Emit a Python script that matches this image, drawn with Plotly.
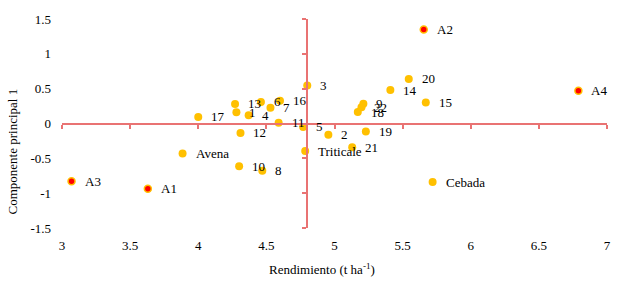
import plotly.graph_objects as go

# Genotypes / cereals
labels = ["1", "2", "3", "4", "5", "6", "7", "8", "9", "10", "11",
          "12", "13", "14", "15", "16", "17", "18", "19", "20", "21", "22",
          "Avena", "Triticale", "Cebada"]
rend = [4.28, 4.955, 4.80, 4.37, 4.77, 4.46, 4.53, 4.47, 5.212, 4.30, 4.59,
        4.31, 4.27, 5.41, 5.67, 4.60, 4.00, 5.171, 5.23, 5.545, 5.13, 5.198,
        3.885, 4.785, 5.72]
cp1 = [0.16, -0.16, 0.545, 0.12, -0.05, 0.31, 0.225, -0.68, 0.282, -0.615, 0.01,
       -0.135, 0.28, 0.48, 0.30, 0.325, 0.095, 0.165, -0.115, 0.64, -0.34, 0.235,
       -0.43, -0.395, -0.84]

# Environments
env_labels = ["A1", "A2", "A3", "A4"]
env_rend = [3.63, 5.655, 3.07, 6.79]
env_cp1 = [-0.935, 1.35, -0.83, 0.47]

x_ticks = [3, 3.5, 4, 4.5, 5, 5.5, 6, 6.5, 7]
x_ticktext = ["3", "3.5", "4", "4.5", "5", "5.5", "6", "6.5", "7"]
y_ticks = [-1.5, -1, -0.5, 0, 0.5, 1, 1.5]
y_ticktext = ["-1.5", "-1", "-0.5", "0", "0.5", "1", "1.5"]

FONT = "Liberation Serif, Times New Roman, serif"
RED = "#E97373"
ORANGE = "#FFC000"

fig = go.Figure()

# empty trace on the main (axis-line) subplot
fig.add_trace(go.Scatter(x=[None], y=[None], xaxis="x", yaxis="y", showlegend=False, hoverinfo="skip"))

fig.add_trace(go.Scatter(
    x=rend, y=cp1, mode="markers", xaxis="x2", yaxis="y2",
    marker=dict(color=ORANGE, size=8, line=dict(width=0)),
    showlegend=False))
fig.add_trace(go.Scatter(
    x=env_rend, y=env_cp1, mode="markers", xaxis="x2", yaxis="y2",
    marker=dict(color="#FF0000", size=7, line=dict(color=ORANGE, width=1.5)),
    showlegend=False))

annotations = []
for lx, ly, lt in list(zip(rend, cp1, labels)) + list(zip(env_rend, env_cp1, env_labels)):
    annotations.append(dict(x=lx, y=ly, xref="x2", yref="y2", text=lt, showarrow=False,
                            xanchor="left", yanchor="middle", xshift=11,
                            font=dict(family=FONT, size=13, color="black")))

annotations.append(dict(x=0.477, y=-0.197, xref="paper", yref="paper",
                        text="Rendimiento (t ha<sup>-1</sup>)", showarrow=False,
                        xanchor="center", yanchor="middle",
                        font=dict(family=FONT, size=13, color="black")))
annotations.append(dict(x=-0.09, y=0.366, xref="paper", yref="paper",
                        text="Componente principal 1", showarrow=False, textangle=-90,
                        xanchor="center", yanchor="middle",
                        font=dict(family=FONT, size=13, color="black")))

fig.update_layout(
    width=624, height=284,
    margin=dict(l=62, r=17, t=15, b=56),
    paper_bgcolor="white", plot_bgcolor="white",
    showlegend=False,
    annotations=annotations,
    xaxis=dict(range=[3, 7], anchor="free", position=0.5, showline=True,
               linecolor=RED, linewidth=2, ticks="outside", ticklen=4, tickwidth=2,
               tickcolor=RED, tickvals=x_ticks, showticklabels=False,
               showgrid=False, zeroline=False, fixedrange=True),
    yaxis=dict(range=[-1.5, 1.5], anchor="free", position=0.45, showline=True,
               linecolor=RED, linewidth=2, ticks="outside", ticklen=4, tickwidth=2,
               tickcolor=RED, tickvals=y_ticks, showticklabels=False,
               showgrid=False, zeroline=False, fixedrange=True),
    xaxis2=dict(range=[3, 7], overlaying="x", anchor="y2", side="bottom",
                showline=False, ticks="", tickvals=x_ticks, ticktext=x_ticktext,
                showgrid=False, zeroline=False, ticklabelstandoff=8,
                tickfont=dict(family=FONT, size=13, color="black")),
    yaxis2=dict(range=[-1.5, 1.5], overlaying="y", anchor="x2", side="left",
                showline=False, ticks="", tickvals=y_ticks, ticktext=y_ticktext,
                showgrid=False, zeroline=False, ticklabelstandoff=10,
                tickfont=dict(family=FONT, size=13, color="black")),
)

fig.write_html("out.html", config={"displayModeBar": False},
               post_script="document.body.style.margin='0';")
